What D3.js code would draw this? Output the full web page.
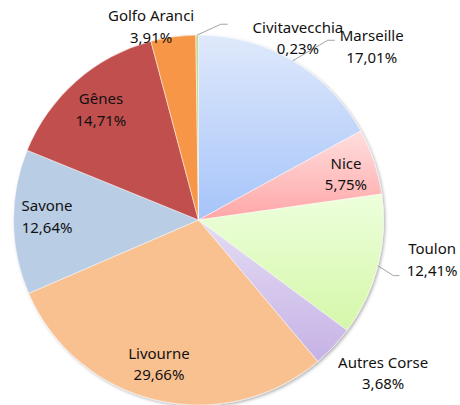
<!DOCTYPE html>
<html lang="fr">
<head>
<meta charset="utf-8">
<title>Pie</title>
<script src="https://cdn.jsdelivr.net/npm/d3@7/dist/d3.min.js"></script>
<style>
    body { margin: 0; background: #fff; }
    .label { font-family: "Noto Sans", sans-serif; font-size: 15px; fill: #111; }
    .leader { fill: none; stroke: #8c8c8c; stroke-width: 0.8; }
</style>
</head>
<body>
<div id="chart"></div>
<script>

// data, clockwise from 12 o'clock
var ports  = ["Marseille", "Nice", "Toulon", "Autres Corse", "Livourne", "Savone", "Gênes", "Golfo Aranci", "Civitavecchia"];
var shares = [17.01, 5.75, 12.41, 3.68, 29.66, 12.64, 14.71, 3.91, 0.23];
var shareLabels = ["17,01%", "5,75%", "12,41%", "3,68%", "29,66%", "12,64%", "14,71%", "3,91%", "0,23%"];

// fills: [top, bottom] for gradient slices, single colour for the rest
var fills = [
    ["#dfe9fb", "#a6c4fa"],
    ["#ffdede", "#ffa6a6"],
    ["#edffdc", "#d5f7a9"],
    ["#e4dcf3", "#c6b2e6"],
    "#f9c090",
    "#b9cde5",
    "#c0504d",
    "#f79646",
    "#c4d79b"
];

var width = 460, height = 405,
    cx = 198.5, cy = 220, R = 185;

// label block positions, polar from the pie centre (deg, px)
var labelAt = {
    "Marseille":     [45, 245],
    "Nice":          [72.9, 154.3],
    "Toulon":        [99.7, 237],
    "Autres Corse":  [129.7, 240],
    "Livourne":      [195.3, 149.8],
    "Savone":        [271.1, 151.5],
    "Gênes":         [318.4, 147],
    "Golfo Aranci":  [346.2, 198.8],
    "Civitavecchia": [28.7, 207]
};
// leader lines: elbow and end, relative to label block centre
var leaders = {
    "Marseille":     [[-44, -6.5], [-37, -6.5]],
    "Civitavecchia": [[-77, -14.2], [-70.3, -14.2]],
    "Toulon":        [[-38.7, 15.7], [-32.7, 15.7]]
};

var svg = d3.select("#chart").append("svg")
    .attr("width", width)
    .attr("height", height);

var defs = svg.append("defs");

var shadow = defs.append("filter")
    .attr("id", "shadow")
    .attr("x", "-10%").attr("y", "-10%")
    .attr("width", "120%").attr("height", "120%");
shadow.append("feDropShadow")
    .attr("dx", 1.5).attr("dy", 1.5)
    .attr("stdDeviation", 1.5)
    .attr("flood-color", "#000")
    .attr("flood-opacity", 0.3);

fills.forEach(function (f, i) {
    if (Array.isArray(f)) {
        var g = defs.append("linearGradient")
            .attr("id", "grad" + i)
            .attr("x1", 0).attr("y1", 0)
            .attr("x2", 0).attr("y2", 1);
        g.append("stop").attr("offset", "0%").attr("stop-color", f[0]);
        g.append("stop").attr("offset", "100%").attr("stop-color", f[1]);
    }
});

function fillFor(i) {
    return Array.isArray(fills[i]) ? "url(#grad" + i + ")" : fills[i];
}

var pie = d3.pie().sort(null).value(function (d) { return d; });
var arcs = pie(shares);

var arc = d3.arc().innerRadius(0).outerRadius(R);

var g = svg.append("g")
    .attr("transform", "translate(" + cx + "," + cy + ")");

g.append("g")
    .attr("filter", "url(#shadow)")
    .selectAll("path")
    .data(arcs)
    .enter()
    .append("path")
    .attr("d", arc)
    .attr("fill", function (d, i) { return fillFor(i); })
    .attr("stroke", "#ffffff")
    .attr("stroke-width", 0.5);

// label block centres
var centres = arcs.map(function (d, i) {
    var p = labelAt[ports[i]];
    if (p) return d3.pointRadial(p[0] * Math.PI / 180, p[1]);
    return d3.pointRadial((d.startAngle + d.endAngle) / 2, R * 0.815);
});

// leader lines
arcs.forEach(function (d, i) {
    var l = leaders[ports[i]];
    if (!l) return;
    var mid = (d.startAngle + d.endAngle) / 2;
    var p0 = d3.pointRadial(mid, R);
    var c = centres[i];
    g.append("path")
        .attr("class", "leader")
        .attr("d", d3.line()([p0, [c[0] + l[0][0], c[1] + l[0][1]], [c[0] + l[1][0], c[1] + l[1][1]]]));
});

var labels = g.selectAll(".label")
    .data(arcs)
    .enter()
    .append("text")
    .attr("class", "label")
    .attr("text-anchor", "middle");

labels.append("tspan")
    .attr("x", function (d, i) { return centres[i][0]; })
    .attr("y", function (d, i) { return centres[i][1] - 5.75; })
    .text(function (d, i) { return ports[i]; });

labels.append("tspan")
    .attr("x", function (d, i) { return centres[i][0]; })
    .attr("y", function (d, i) { return centres[i][1] + 15.75; })
    .text(function (d, i) { return shareLabels[i]; });

</script>
</body>
</html>
